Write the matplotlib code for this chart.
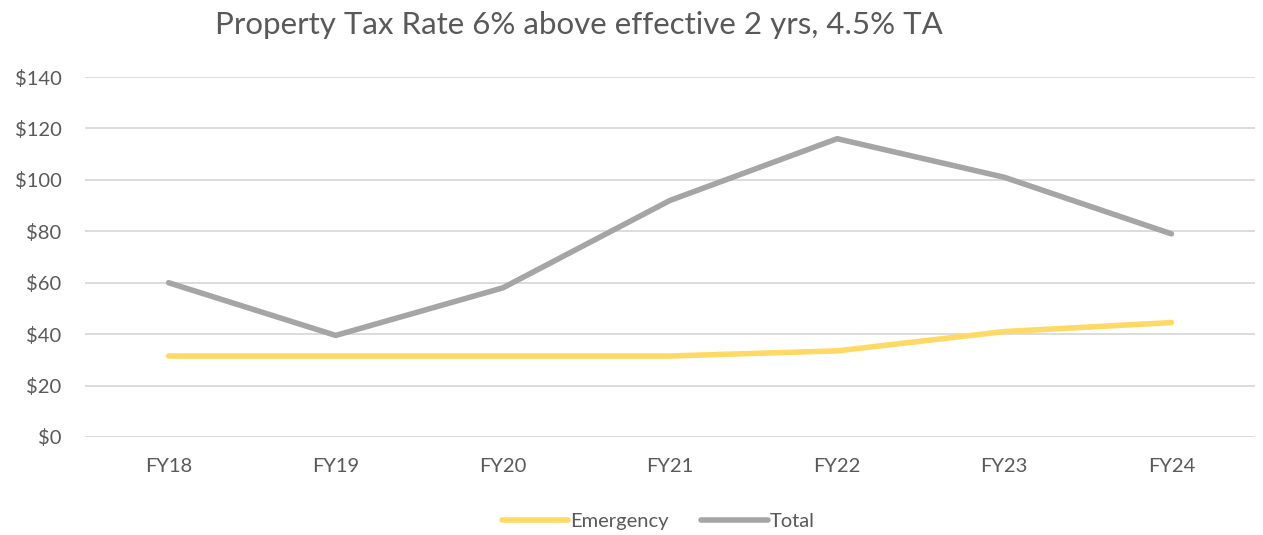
import matplotlib
matplotlib.use("Agg")
import matplotlib.pyplot as plt
from matplotlib.ticker import FuncFormatter

years = ["FY18", "FY19", "FY20", "FY21", "FY22", "FY23", "FY24"]
emergency = [31.5, 31.5, 31.5, 31.5, 33.5, 41, 44.5]
total = [60, 39.5, 58, 92, 116, 101, 79]

plt.rcParams["font.family"] = ["Lato", "DejaVu Sans"]
text_color = "#595959"
grid_color = "#d9d9d9"

fig = plt.figure(figsize=(12.63, 5.35), dpi=100)
ax = fig.add_axes([85 / 1263, 98 / 535, 1170 / 1263, 360 / 535])

x = range(len(years))
ax.plot(x, emergency, color="#ffd966", lw=4, solid_capstyle="round",
        solid_joinstyle="round", label="Emergency", zorder=3)
ax.plot(x, total, color="#a5a5a5", lw=4, solid_capstyle="round",
        solid_joinstyle="round", label="Total", zorder=3)

ax.set_xlim(-0.5, len(years) - 0.5)
ax.set_ylim(0, 140)
ax.set_yticks(range(0, 141, 20))
ax.yaxis.set_major_formatter(FuncFormatter(lambda v, _: f"${v:.0f}"))
ax.set_xticks(list(x))
ax.set_xticklabels(years)
ax.grid(axis="y", color=grid_color, lw=1.3)
ax.set_axisbelow(True)
for side in ["top", "right", "left", "bottom"]:
    ax.spines[side].set_visible(False)
ax.tick_params(length=0, labelsize=14.5, colors=text_color)
ax.tick_params(axis="y", pad=17)
ax.tick_params(axis="x", pad=15)

fig.text(0.458, 0.954, "Property Tax Rate 6% above effective 2 yrs, 4.5% TA",
         ha="center", va="center", fontsize=22.5, color=text_color)

ax.legend(loc="upper center", bbox_to_anchor=(0.49, -0.16), ncol=2, frameon=False,
          fontsize=14.5, labelcolor=text_color, handlelength=3.3,
          handletextpad=0.1, columnspacing=1.6)

fig.savefig("out.png", dpi=100)
